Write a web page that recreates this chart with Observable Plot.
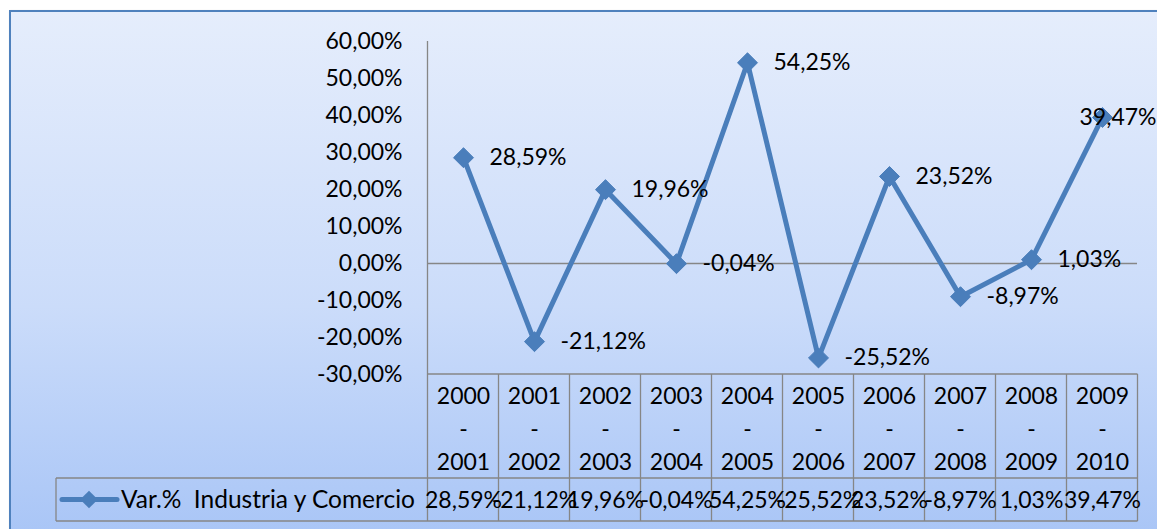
<!DOCTYPE html>
<html>
<head>
<meta charset="utf-8">
<script src="https://cdn.jsdelivr.net/npm/d3@7"></script>
<script src="https://cdn.jsdelivr.net/npm/@observablehq/plot@0.6"></script>
<style>
  html, body { margin: 0; padding: 0; background: #ffffff; overflow: hidden; }
  #frame {
    position: absolute; left: 9px; top: 10px; width: 1170px; height: 540px;
    border: 2px solid #4f81bd; box-sizing: border-box;
    background: linear-gradient(to bottom, #e5edfc 0%, #cbdcfa 55%, #a7c4f6 100%);
    box-shadow: 1px 1px 2px rgba(0,0,0,0.25);
  }
  #chart { position: absolute; left: 0; top: 0; }
</style>
</head>
<body>
<div id="frame"></div>
<div id="chart"></div>
<script>
// ---- data ----
const periodStart = ["2000","2001","2002","2003","2004","2005","2006","2007","2008","2009"];
const periodEnd   = ["2001","2002","2003","2004","2005","2006","2007","2008","2009","2010"];
const categories  = periodStart.map((s, i) => s + "-" + periodEnd[i]);
const values      = [28.59, -21.12, 19.96, -0.04, 54.25, -25.52, 23.52, -8.97, 1.03, 39.47];
const yTicks      = [-30, -20, -10, 0, 10, 20, 30, 40, 50, 60];
const seriesName  = "Var.%  Industria y Comercio";

const data = categories.map((c, i) => ({cat: c, start: periodStart[i], end: periodEnd[i], value: values[i]}));
const fmt = v => v.toFixed(2).replace(".", ",") + "%";

const FONT = "Lato, 'Open Sans', sans-serif";
const LINE = "#4a7ebb";
const GRID = "#868686";

// table / axis lines drawn with the plot's own scales
function tableRender(index, scales, values_, dims) {
  const x = scales.x, y = scales.y;
  const step = x(categories[1]) - x(categories[0]);
  const x0 = x(categories[0]) - step / 2;
  const x1 = x(categories[categories.length - 1]) + step / 2;
  const yTop = y(yTicks[yTicks.length - 1]);
  const yAxisBottom = y(yTicks[0]);
  const headerBottom = yAxisBottom + 104;
  const tableBottom = headerBottom + 43;
  const legendLeft = 56;
  const g = d3.create("svg:g");
  const ln = (xa, xb, ya, yb) => g.append("line")
    .attr("x1", xa).attr("x2", xb).attr("y1", ya).attr("y2", yb)
    .style("stroke", GRID).style("stroke-width", "1.3px").style("fill", "none");
  ln(x0, x0, yTop, tableBottom);                       // y axis + table left border
  ln(x0, x1, yAxisBottom, yAxisBottom);                // x axis (table top)
  ln(legendLeft, x1, headerBottom, headerBottom);      // legend top
  ln(legendLeft, x1, tableBottom, tableBottom);        // table bottom
  ln(legendLeft, legendLeft, headerBottom, tableBottom);
  categories.forEach(c => { const xe = x(c) + step / 2; ln(xe, xe, yAxisBottom, tableBottom); });
  // legend key
  const ly = (headerBottom + tableBottom) / 2;
  g.append("line").attr("x1", 62).attr("x2", 117).attr("y1", ly).attr("y2", ly)
    .style("stroke", LINE).style("stroke-width", "5px").style("stroke-linecap", "round");
  g.append("path").attr("d", d3.symbol(d3.symbolDiamond2, 200)())
    .attr("transform", `translate(89,${ly})`).style("fill", LINE).style("stroke", "none");
  g.append("text").attr("x", 121).attr("y", ly).attr("dy", "0.35em")
    .style("text-anchor", "start").style("fill", "#000")
    .style("font-family", FONT).style("font-size", "24.5px").text(seriesName);
  return g.node();
}

const chart = Plot.plot({
  width: 1157,
  height: 529,
  marginLeft: 427,
  marginRight: 20,
  marginTop: 41,
  marginBottom: 155,
  style: {background: "transparent", fontFamily: FONT, fontSize: "23px", color: "#000"},
  x: {type: "point", domain: categories, padding: 0.5, axis: null},
  y: {domain: [-30, 60], axis: null},
  marks: [
    Plot.ruleY([0], {stroke: GRID, strokeWidth: 1.3}),
    tableRender,
    Plot.text(yTicks, {y: d => d, text: d => fmt(d), frameAnchor: "left", textAnchor: "end", dx: -25, fontSize: 23, fill: "#000"}),
    Plot.line(data, {x: "cat", y: "value", stroke: LINE, strokeWidth: 5}),
    Plot.dot(data, {x: "cat", y: "value", symbol: "diamond2", r: 9, fill: LINE, stroke: LINE, strokeWidth: 1}),
    Plot.text(data.slice(0, -1), {x: "cat", y: "value", text: d => fmt(d.value), textAnchor: "start", dx: 26, fontSize: 23, fill: "#000"}),
    Plot.text(data.slice(-1), {x: "cat", y: "value", text: d => fmt(d.value), textAnchor: "end", dx: 54, fontSize: 23, fill: "#000"}),
    Plot.text(data, {x: "cat", text: d => d.start + "\n-\n" + d.end, frameAnchor: "bottom", lineAnchor: "middle", lineHeight: 1.43, dy: 52, fontSize: 23, fill: "#000"}),
    Plot.text(data, {x: "cat", text: d => fmt(d.value), frameAnchor: "bottom", lineAnchor: "middle", dy: 126, fontSize: 23, fill: "#000"})
  ]
});
document.getElementById("chart").appendChild(chart);
</script>
</body>
</html>
